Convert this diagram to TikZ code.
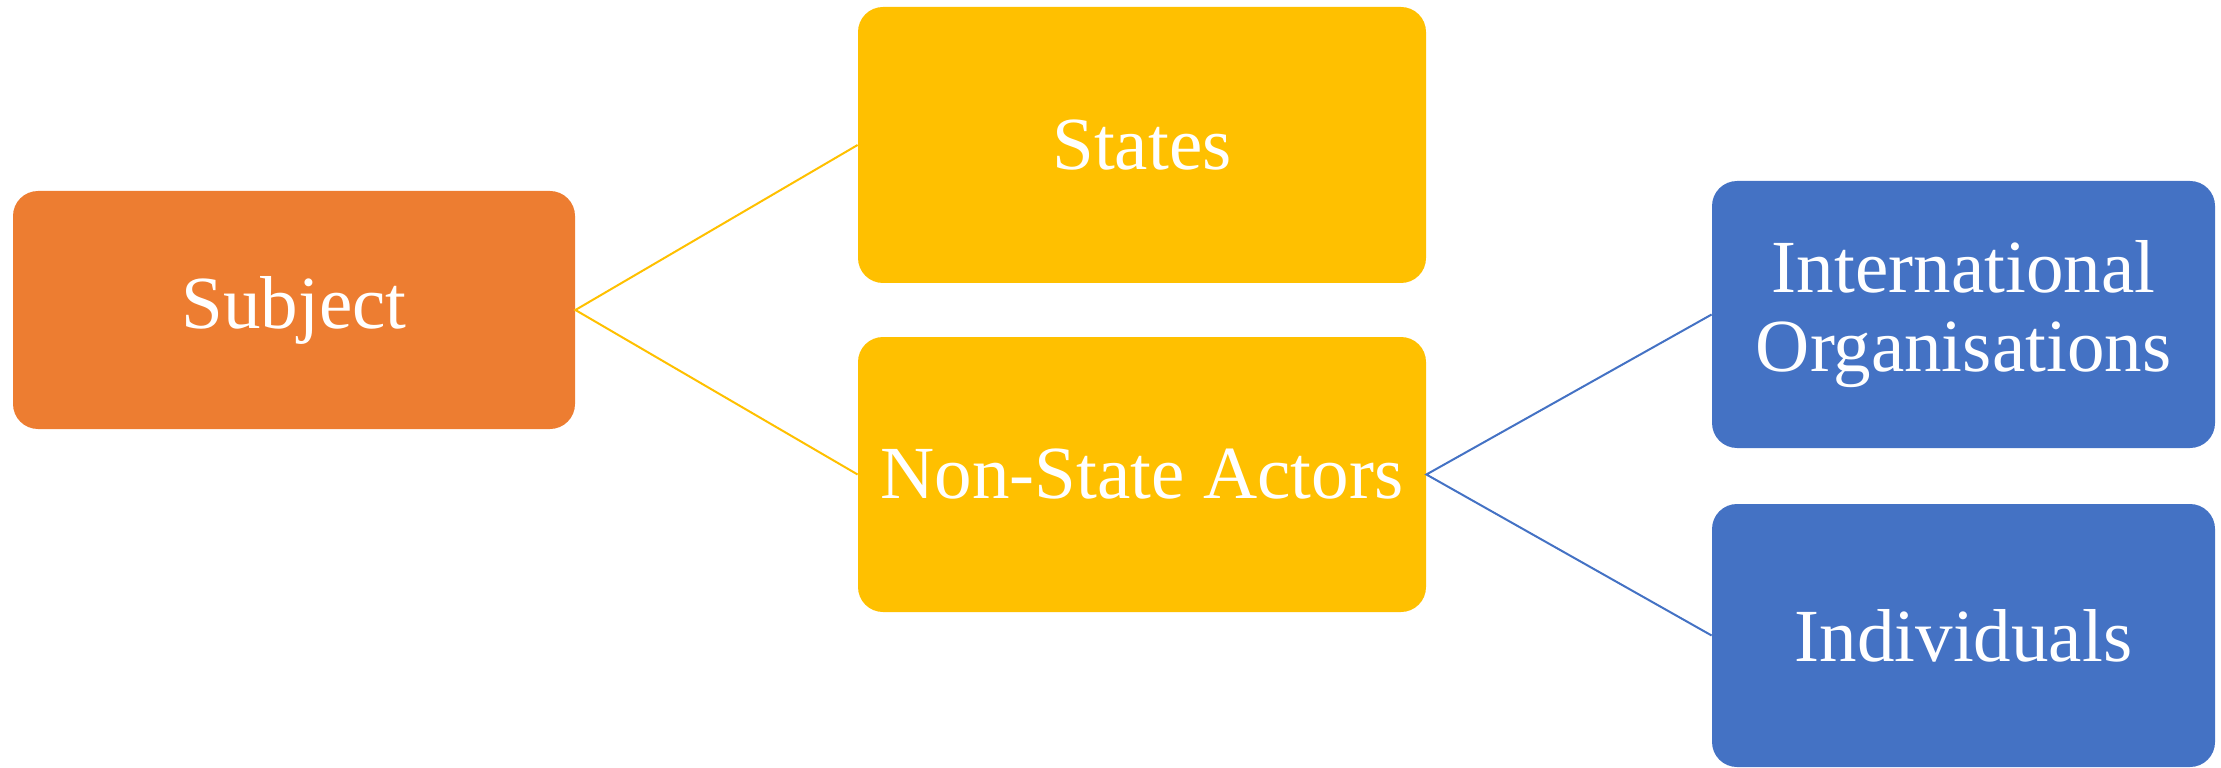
\documentclass[tikz,border=0pt]{standalone}
\usepackage{fontspec}
\setmainfont{Liberation Serif}
\usetikzlibrary{positioning}
\definecolor{subj_orange}{HTML}{ED7D31}
\definecolor{state_yellow}{HTML}{FFC000}
\definecolor{actor_blue}{HTML}{4472C4}

\begin{document}
\begin{tikzpicture}[x=1pt,y=1pt,
    every node/.style={font=\fontsize{37.5}{39.5}\selectfont, text=white,
      align=center, rounded corners=12.5pt, inner sep=0pt},
    box/.style={fill=#1, draw=none},
    link/.style={draw=#1, line width=1pt},
  ]
  \useasboundingbox (0,0) rectangle (1110.5,383.5);
  \node[box=subj_orange, minimum width=281pt, minimum height=119pt]
    (subject) at (147,228.5) {Subject};
  \node[box=state_yellow, minimum width=284pt, minimum height=138pt]
    (states) at (571,311) {States};
  \node[box=state_yellow, minimum width=284pt, minimum height=137.5pt]
    (nonstate) at (571,146.25) {Non-State Actors};
  \node[box=actor_blue, minimum width=251.5pt, minimum height=133.5pt]
    (intorg) at (981.75,226.25) {International\\Organisations};
  \node[box=actor_blue, minimum width=251.5pt, minimum height=131.5pt]
    (individuals) at (981.75,65.75) {Individuals};
  % connectors
  \draw[link=state_yellow] (states.west) -- (subject.east) -- (nonstate.west);
  \draw[link=actor_blue] (intorg.west) -- (nonstate.east) -- (individuals.west);
\end{tikzpicture}
\end{document}
